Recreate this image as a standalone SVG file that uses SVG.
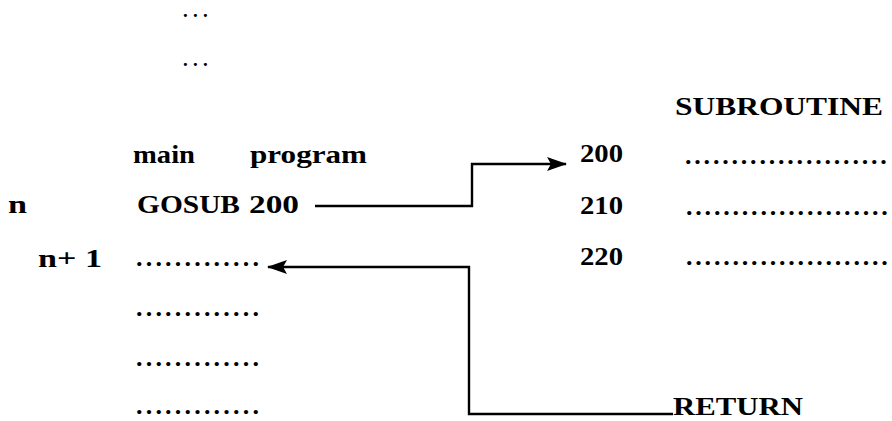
<svg xmlns="http://www.w3.org/2000/svg" width="892" height="421" viewBox="0 0 892 421">
  <style>
    text { font-family: "Liberation Serif", "Times New Roman", serif; font-weight: bold; font-size: 26px; fill: #000; }
    .dots { letter-spacing: 3.2px; }
    .rdots { letter-spacing: 2.8px; }
    .elide { font-size: 19px; letter-spacing: 5.2px; }
    .wire { fill: none; stroke: #000; stroke-width: 2.4; stroke-linejoin: miter; }
  </style>
  <defs>
    <marker id="head" markerUnits="userSpaceOnUse" viewBox="0 0 20 14" markerWidth="20" markerHeight="14" refX="19" refY="7" orient="auto">
      <path d="M0,0 L20,7 L0,14 L4,7 z" fill="#000"/>
    </marker>
  </defs>

  <!-- elided lines above the call -->
  <g id="ellipsis-1"><text class="elide" x="183" y="17">...</text></g>
  <g id="ellipsis-2"><text class="elide" x="183" y="66">...</text></g>

  <!-- main program column -->
  <g id="main-header">
    <text x="133" y="163" textLength="62" lengthAdjust="spacingAndGlyphs">main</text>
    <text x="250" y="163" textLength="117" lengthAdjust="spacingAndGlyphs">program</text>
  </g>
  <g id="line-n">
    <text x="8" y="213" textLength="19" lengthAdjust="spacingAndGlyphs">n</text>
    <text x="137" y="213" textLength="103" lengthAdjust="spacingAndGlyphs">GOSUB</text>
    <text x="249" y="213" textLength="50" lengthAdjust="spacingAndGlyphs">200</text>
  </g>
  <g id="line-n1">
    <text x="38" y="267" textLength="64" lengthAdjust="spacingAndGlyphs">n+ 1</text>
    <text class="dots" x="136" y="266">.............</text>
  </g>
  <g id="main-rest">
    <text class="dots" x="136" y="316">.............</text>
    <text class="dots" x="136" y="366">.............</text>
    <text class="dots" x="136" y="414">.............</text>
  </g>

  <!-- subroutine column -->
  <g id="sub-header">
    <text x="675" y="115" textLength="208" lengthAdjust="spacingAndGlyphs">SUBROUTINE</text>
  </g>
  <g id="sub-200">
    <text x="580" y="162" textLength="43" lengthAdjust="spacingAndGlyphs">200</text>
    <text class="rdots" x="685" y="164">......................</text>
  </g>
  <g id="sub-210">
    <text x="580" y="214" textLength="43" lengthAdjust="spacingAndGlyphs">210</text>
    <text class="rdots" x="686" y="215">......................</text>
  </g>
  <g id="sub-220">
    <text x="580" y="265" textLength="43" lengthAdjust="spacingAndGlyphs">220</text>
    <text class="rdots" x="686" y="265">......................</text>
  </g>
  <g id="sub-return">
    <text x="673" y="415" textLength="130" lengthAdjust="spacingAndGlyphs">RETURN</text>
  </g>

  <!-- control transfer: call and return -->
  <g id="connectors">
    <path class="wire" d="M315,206 H472 V164 H566" marker-end="url(#head)"/>
    <path class="wire" d="M673,414 H469 V267 H268" marker-end="url(#head)"/>
  </g>
</svg>
